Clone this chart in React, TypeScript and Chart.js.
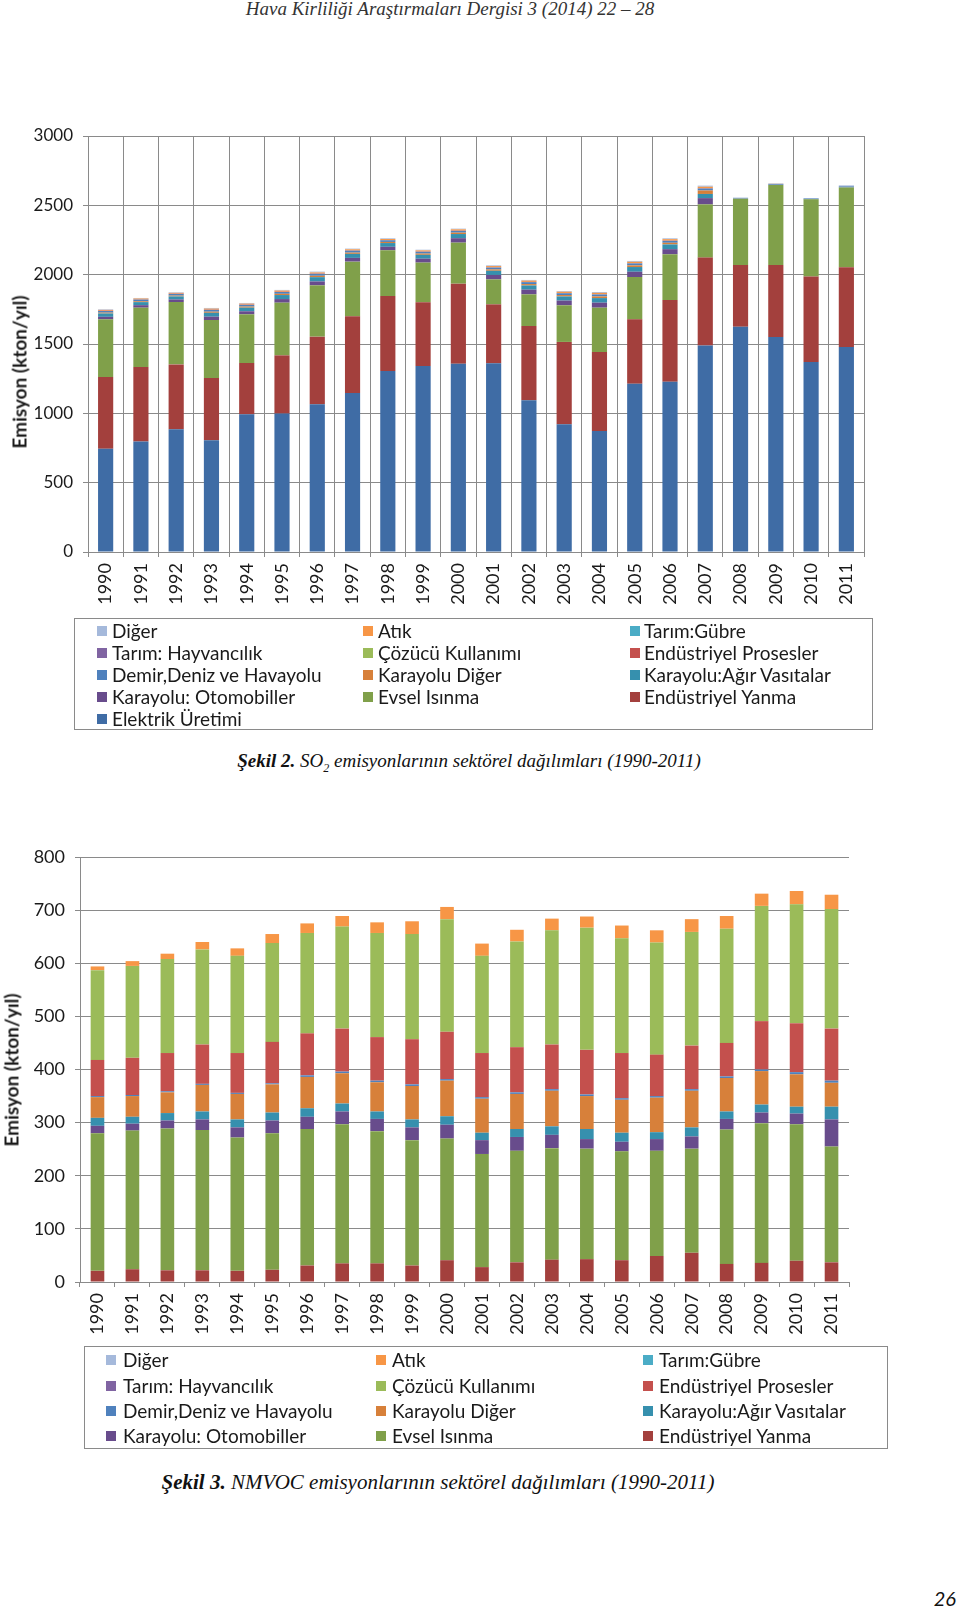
import React, { useEffect, useRef } from 'react';
import { Chart, registerables } from 'chart.js';

Chart.register(...registerables);

const years = ['1990', '1991', '1992', '1993', '1994', '1995', '1996', '1997', '1998', '1999', '2000', '2001', '2002', '2003', '2004', '2005', '2006', '2007', '2008', '2009', '2010', '2011'];

// Series names (stack order, bottom to top)
const seriesNames = ['Elektrik Üretimi', 'Endüstriyel Yanma', 'Evsel Isınma', 'Karayolu: Otomobiller', 'Karayolu:Ağır Vasıtalar', 'Karayolu Diğer', 'Demir,Deniz ve Havayolu', 'Endüstriyel Prosesler', 'Çözücü Kullanımı', 'Tarım: Hayvancılık', 'Tarım:Gübre', 'Atık', 'Diğer'];
const seriesColors = ['#3F6CA5', '#A3403D', '#80A04A', '#684C8C', '#3690AE', '#D7803A', '#4F81BD', '#C4504D', '#9BBB59', '#8064A2', '#4BACC6', '#F79646', '#A5B9DB'];

// SO2 (kton/yıl)
const so2Elektrik = [745, 796, 885, 805, 993, 998, 1065, 1147, 1305, 1341, 1358, 1361, 1094, 921, 873, 1214, 1228, 1490, 1625, 1551, 1370, 1478];
const so2EndYanma = [517, 538, 468, 450, 370, 420, 488, 553, 541, 460, 577, 425, 536, 594, 569, 464, 589, 633, 445, 519, 616, 575];
const so2Evsel = [416, 428, 450, 418, 351, 380, 370, 394, 330, 286, 296, 180, 228, 264, 320, 305, 330, 384, 478, 577, 557, 575];
const so2Otomobil = [18, 18, 18, 24, 22, 26, 28, 27, 25, 28, 32, 32, 34, 34, 36, 38, 37, 45, 1, 1, 1, 1];
const so2AgirVasita = [24, 22, 22, 28, 26, 29, 31, 29, 27, 28, 30, 30, 30, 30, 33, 34, 34, 30, 1, 1, 1, 2];
const so2KarayoluDiger = [6, 6, 6, 8, 8, 9, 10, 9, 8, 9, 10, 10, 10, 10, 12, 12, 12, 25, 0, 0, 0, 0];
const so2Demir = [12, 12, 12, 13, 12, 13, 14, 14, 12, 13, 13, 13, 14, 13, 14, 14, 14, 14, 3, 5, 4, 6];
const so2EndProses = [2, 2, 2, 2, 2, 2, 2, 2, 2, 2, 2, 2, 2, 2, 2, 2, 2, 3, 0, 0, 0, 0];
const so2Cozucu = [0, 0, 0, 0, 0, 0, 0, 0, 0, 0, 0, 0, 0, 0, 0, 0, 0, 0, 0, 0, 0, 0];
const so2Hayvancilik = [0, 0, 0, 0, 0, 0, 0, 0, 0, 0, 0, 0, 0, 0, 0, 0, 0, 0, 0, 0, 0, 0];
const so2Gubre = [0, 0, 0, 0, 0, 0, 0, 0, 0, 0, 0, 0, 0, 0, 0, 0, 0, 0, 0, 0, 0, 0];
const so2Atik = [6, 6, 6, 7, 7, 8, 8, 8, 7, 8, 9, 9, 9, 9, 10, 10, 10, 10, 0, 1, 0, 1];
const so2Diger = [4, 4, 4, 5, 5, 5, 6, 5, 5, 5, 5, 5, 5, 5, 6, 6, 6, 8, 3, 4, 4, 6];

// NMVOC (kton/yıl)
const nmEndYanma = [21, 24, 22, 22, 21, 23, 31, 35, 35, 31, 41, 28, 37, 42, 43, 41, 49, 55, 34, 36, 40, 37];
const nmEvsel = [259, 261, 267, 264, 251, 257, 257, 262, 249, 236, 229, 213, 210, 210, 208, 205, 198, 196, 253, 263, 257, 218];
const nmOtomobil = [14, 13, 15, 20, 19, 24, 23, 24, 23, 24, 26, 26, 26, 25, 18, 18, 22, 23, 20, 20, 20, 51];
const nmAgirVasita = [15, 13, 14, 15, 15, 15, 16, 15, 14, 15, 16, 14, 15, 16, 19, 17, 13, 17, 14, 15, 13, 24];
const nmKarayoluDiger = [39, 39, 39, 50, 48, 53, 59, 57, 55, 63, 67, 64, 66, 67, 62, 62, 65, 69, 63, 63, 61, 45];
const nmDemir = [2, 2, 2, 2, 2, 2, 3, 3, 3, 3, 3, 3, 3, 3, 3, 3, 3, 3, 3, 3, 4, 4];
const nmEndProses = [68, 70, 72, 74, 75, 78, 79, 81, 82, 85, 89, 83, 85, 84, 84, 85, 78, 82, 63, 91, 92, 98];
const nmCozucu = [169, 173, 177, 179, 183, 186, 189, 192, 196, 198, 212, 183, 199, 215, 230, 216, 211, 214, 215, 217, 224, 225];
const nmHayvancilik = [0, 0, 0, 0, 0, 0, 0, 0, 0, 0, 0, 0, 0, 0, 0, 0, 0, 0, 0, 0, 0, 0];
const nmGubre = [0, 0, 0, 0, 0, 0, 0, 0, 0, 0, 0, 0, 0, 0, 0, 0, 0, 0, 0, 0, 0, 0];
const nmAtik = [7, 9, 10, 14, 14, 17, 18, 20, 20, 24, 23, 23, 22, 22, 21, 24, 23, 24, 24, 23, 25, 27];
const nmDiger = [0, 0, 0, 0, 0, 0, 0, 0, 0, 0, 0, 0, 0, 0, 0, 0, 0, 0, 0, 0, 0, 0];

const so2Series = [so2Elektrik, so2EndYanma, so2Evsel, so2Otomobil, so2AgirVasita, so2KarayoluDiger, so2Demir, so2EndProses, so2Cozucu, so2Hayvancilik, so2Gubre, so2Atik, so2Diger];
const nmSeries = [null, nmEndYanma, nmEvsel, nmOtomobil, nmAgirVasita, nmKarayoluDiger, nmDemir, nmEndProses, nmCozucu, nmHayvancilik, nmGubre, nmAtik, nmDiger];

const GRID = '#8a8a8a';
const SANS = 'Lato, "Open Sans", sans-serif';
const SERIF = '"Liberation Serif", "DejaVu Serif", serif';

type ChartProps = {
  series: (number[] | null)[];
  top: number;
  height: number;
  padTop: number;
  padRight: number;
  yWidth: number;
  yMax: number;
  yStep: number;
  barPct: number;
  vGrid: boolean;
  tickSize: number;
  xTickSize: number;
};

function StackedChart(p: ChartProps) {
  const ref = useRef<HTMLCanvasElement>(null);
  useEffect(() => {
    const datasets = p.series
      .map((d, i) => (d ? {
        label: seriesNames[i],
        data: d,
        backgroundColor: seriesColors[i],
        borderWidth: 0,
        barPercentage: p.barPct,
        categoryPercentage: 1,
      } : null))
      .filter((d) => d !== null) as any[];
    const chart = new Chart(ref.current as HTMLCanvasElement, {
      type: 'bar',
      data: { labels: years, datasets },
      options: {
        animation: false,
        responsive: false,
        devicePixelRatio: 1,
        layout: { padding: { top: p.padTop, right: p.padRight, left: 0, bottom: 0 } },
        plugins: { legend: { display: false }, tooltip: { enabled: false } },
        scales: {
          x: {
            stacked: true,
            grid: { offset: true, color: GRID, lineWidth: 1, tickLength: 5, drawOnChartArea: p.vGrid, drawTicks: true },
            border: { color: GRID, width: 1 },
            ticks: { autoSkip: false, maxRotation: 90, minRotation: 90, padding: 6, color: '#1a1a1a', font: { family: SANS, size: p.xTickSize } },
            afterFit: (s: any) => { s.height = 70; },
          },
          y: {
            stacked: true,
            min: 0,
            max: p.yMax,
            grid: { color: GRID, lineWidth: 1, tickLength: 5, drawTicks: true },
            border: { color: GRID, width: 1 },
            ticks: {
              stepSize: p.yStep,
              padding: 10,
              color: '#1a1a1a',
              font: { family: SANS, size: p.tickSize },
              callback: (v: any) => String(v),
            },
            afterFit: (s: any) => { s.width = p.yWidth; },
          },
        },
      },
    });
    return () => chart.destroy();
  }, []);
  return (
    <canvas
      ref={ref}
      width={900}
      height={p.height}
      style={{ position: 'absolute', left: 0, top: p.top, width: 900, height: p.height, display: 'block' }}
    />
  );
}

type LegendProps = {
  names: string[];
  box: { left: number; top: number; width: number; height: number };
  sqX: number[];
  txtX: number[];
  rowY: number[];
  fontSize: number;
};

function Legend(p: LegendProps) {
  const items: React.ReactNode[] = [];
  p.names.forEach((name, i) => {
    const col = i % 3;
    const row = Math.floor(i / 3);
    const color = seriesColors[seriesNames.indexOf(name)];
    const cy = p.rowY[row];
    items.push(
      <div key={'s' + i} style={{ position: 'absolute', left: p.sqX[col] - p.box.left, top: cy - 5 - p.box.top, width: 10, height: 10, background: color }} />
    );
    items.push(
      <div key={'t' + i} style={{ position: 'absolute', left: p.txtX[col] - p.box.left, top: cy - 12 - p.box.top, height: 24, lineHeight: '24px', fontFamily: SANS, fontSize: p.fontSize, color: '#1a1a1a', whiteSpace: 'nowrap' }}>{name}</div>
    );
  });
  return (
    <div style={{ position: 'absolute', left: p.box.left, top: p.box.top, width: p.box.width, height: p.box.height, border: '1px solid #8a8a8a', boxSizing: 'border-box' }}>
      {items}
    </div>
  );
}

function YTitle({ cx, cy, size }: { cx: number; cy: number; size: number }) {
  return (
    <div style={{ position: 'absolute', left: cx, top: cy, transform: 'translate(-50%, -50%) rotate(-90deg)', fontFamily: SANS, fontWeight: 700, fontSize: size, color: '#1a1a1a', whiteSpace: 'nowrap', lineHeight: 1 }}>
      Emisyon (kton/yıl)
    </div>
  );
}

export default function App() {
  const legendNames1 = [...seriesNames].reverse();
  const legendNames2 = [...seriesNames].reverse().filter((n) => n !== 'Elektrik Üretimi');
  return (
    <div style={{ position: 'absolute', left: 0, top: 0, width: 960, height: 1609, background: '#fff', overflow: 'hidden' }}>
      <div style={{ position: 'absolute', left: 0, width: 900, top: -2, textAlign: 'center', fontFamily: SERIF, fontStyle: 'italic', fontSize: 19, color: '#333', lineHeight: '22px' }}>
        Hava Kirliliği Araştırmaları Dergisi 3 (2014) 22 – 28
      </div>

      <StackedChart series={so2Series} top={110} height={512} padTop={26} padRight={36} yWidth={88} yMax={3000} yStep={500} barPct={0.43} vGrid={true} tickSize={17} xTickSize={18} />
      <YTitle cx={19} cy={372} size={19} />
      <Legend
        names={legendNames1}
        box={{ left: 74, top: 618, width: 799, height: 112 }}
        sqX={[96, 362, 629]}
        txtX={[111, 377, 643]}
        rowY={[630, 652, 674, 696, 718]}
        fontSize={19}
      />
      <div style={{ position: 'absolute', left: 0, width: 938, top: 748, textAlign: 'center', fontFamily: SERIF, fontStyle: 'italic', fontSize: 19, color: '#111', lineHeight: '26px' }}>
        <b>Şekil 2.</b> SO<sub style={{ fontSize: 12 }}>2</sub> emisyonlarının sektörel dağılımları (1990-2011)
      </div>

      <StackedChart series={nmSeries} top={830} height={522} padTop={27} padRight={51} yWidth={80} yMax={800} yStep={100} barPct={0.39} vGrid={false} tickSize={18} xTickSize={18} />
      <YTitle cx={11} cy={1070} size={19} />
      <Legend
        names={legendNames2}
        box={{ left: 84, top: 1346, width: 804, height: 103 }}
        sqX={[105, 375, 642]}
        txtX={[122, 391, 658]}
        rowY={[1359, 1385, 1410, 1435]}
        fontSize={19}
      />
      <div style={{ position: 'absolute', left: 0, width: 876, top: 1468, textAlign: 'center', fontFamily: SERIF, fontStyle: 'italic', fontSize: 21, color: '#111', lineHeight: '28px' }}>
        <b>Şekil 3.</b> NMVOC emisyonlarının sektörel dağılımları (1990-2011)
      </div>

      <div style={{ position: 'absolute', right: 4, top: 1586, fontFamily: SANS, fontStyle: 'italic', fontSize: 20, color: '#111', lineHeight: '24px' }}>
        26
      </div>
    </div>
  );
}
